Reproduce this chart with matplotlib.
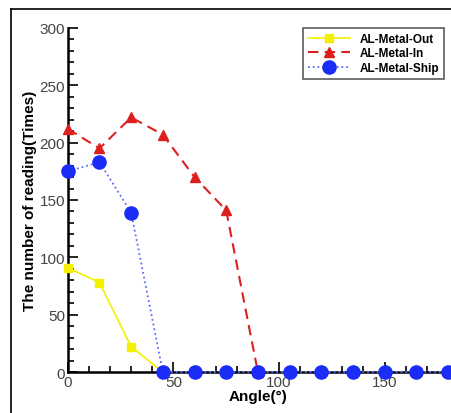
import numpy as np
import matplotlib
matplotlib.use("Agg")
import matplotlib.pyplot as plt
from matplotlib.lines import Line2D
from matplotlib.ticker import MultipleLocator

# --- data ---
angle_out = [0, 15, 30, 45]
read_out = [91, 78, 22, 0]

angle_in = [0, 15, 30, 45, 60, 75, 90]
read_in = [212, 195, 222, 207, 170, 141, 0]

angle_ship = [0, 15, 30, 45, 60, 75, 90, 105, 120, 135, 150, 165, 180]
read_ship = [175, 183, 139, 0, 0, 0, 0, 0, 0, 0, 0, 0, 0]

plt.rcParams['font.family'] = ['Liberation Sans', 'DejaVu Sans']

fig = plt.figure(figsize=(4.52, 4.14), dpi=100)
ax = fig.add_axes([0.150, 0.099, 0.841, 0.831])

ax.plot(angle_out, read_out, color='#f5f000', lw=1.2, marker='s', ms=6,
        label='AL-Metal-Out', clip_on=False, zorder=3)
ax.plot(angle_in, read_in, color='#dd1f1f', lw=1.5, ls=(0, (5, 3)), marker='^',
        ms=7.5, label='AL-Metal-In', clip_on=False, zorder=3)
ax.plot(angle_ship, read_ship, color='#5a6cff', lw=1.3, ls=':', marker='o',
        ms=9.5, mfc='#1a2cf5', mec='#1a2cf5', label='AL-Metal-Ship',
        clip_on=False, zorder=4)

ax.set_xlim(0, 180)
ax.set_ylim(0, 300)
ax.xaxis.set_major_locator(MultipleLocator(50))
ax.xaxis.set_minor_locator(MultipleLocator(10))
ax.yaxis.set_major_locator(MultipleLocator(50))
ax.yaxis.set_minor_locator(MultipleLocator(10))
ax.tick_params(which='both', direction='in', width=1.2, labelsize=11,
               labelcolor='#444444', pad=2)
ax.tick_params(which='major', length=7)
ax.tick_params(which='minor', length=4)

for s in ['top', 'right']:
    ax.spines[s].set_visible(False)
for s in ['left', 'bottom']:
    ax.spines[s].set_linewidth(1.8)

ax.set_xlabel('Angle(°)', fontsize=11, fontweight='bold', labelpad=0)
ax.set_ylabel('The number of reading(Times)', fontsize=11, fontweight='bold',
              labelpad=2)

leg = ax.legend(loc='upper right', bbox_to_anchor=(0.99, 1.0),
                prop={'weight': 'bold', 'size': 8.5}, frameon=True,
                fancybox=False, edgecolor='#333333', handlelength=3.6,
                borderpad=0.4, labelspacing=0.22, handletextpad=0.8,
                borderaxespad=0)
leg.get_frame().set_linewidth(1.2)

# outer frame of the original picture
fig.add_artist(Line2D([11 / 452, 11 / 452], [0, 1 - 10 / 414], color='k', lw=1.2))
fig.add_artist(Line2D([11 / 452, 1], [1 - 10 / 414, 1 - 10 / 414], color='k', lw=1.2))

fig.savefig('out.png', dpi=100)
